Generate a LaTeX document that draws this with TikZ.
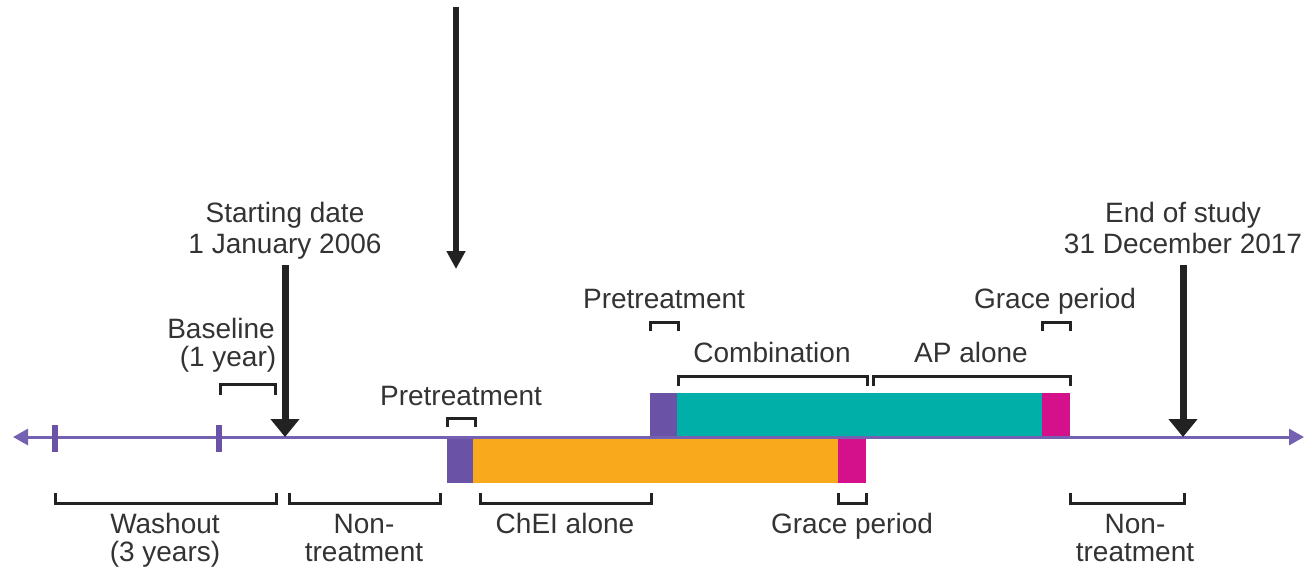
\documentclass[tikz,border=0pt]{standalone}
\usepackage{fontspec}
\setmainfont{Liberation Sans}
\usetikzlibrary{arrows.meta}
\definecolor{tlpurple}{HTML}{7561B2}
\definecolor{blkpurple}{HTML}{6A52A6}
\definecolor{cteal}{HTML}{00B0A8}
\definecolor{corange}{HTML}{F9A91C}
\definecolor{cmagenta}{HTML}{D4108A}
\definecolor{ink}{HTML}{222222}
\definecolor{txt}{HTML}{333333}
\begin{document}
\begin{tikzpicture}[x=0.5pt,y=-0.5pt,
  lbl/.style={font=\fontsize{14}{16}\selectfont, text=txt, inner sep=0pt, anchor=base},
  bracket/.style={draw=ink, line width=1.5pt, line join=miter},
  bigarrow/.style={draw=ink, line width=3.5pt, -{Triangle[length=9pt,width=14pt]}},
  toparrow/.style={draw=ink, line width=3pt, -{Triangle[length=9pt,width=9pt]}},
  timeline/.style={draw=tlpurple, line width=1.5pt,
    {Triangle[length=7.5pt,width=8pt]}-{Triangle[length=7.5pt,width=8pt]}},
  tick/.style={draw=blkpurple, line width=3pt}]
\useasboundingbox (0,0) rectangle (1309,569);

% treatment blocks below the time axis
\fill[blkpurple] (447,437) rectangle (473,483);
\fill[corange] (473,437) rectangle (838,483);
\fill[cmagenta] (838,437) rectangle (866,483);
% treatment blocks above the time axis
\fill[blkpurple] (650,393) rectangle (677,437);
\fill[cteal] (677,393) rectangle (1042,437);
\fill[cmagenta] (1042,393) rectangle (1070,437);

% time axis and year ticks
\coordinate (axL) at (13,437);
\coordinate (axR) at (1304,437);
\draw[timeline] (axL) -- (axR);
\draw[tick] (55,425) -- (55,452);
\draw[tick] (219,425) -- (219,452);

% arrows
\coordinate (topA) at (456,7);
\coordinate (topB) at (456,269);
\draw[toparrow] (topA) -- (topB);
\coordinate (startA) at (285,265);
\coordinate (startB) at (285,437);
\draw[bigarrow] (startA) -- (startB);
\coordinate (endA) at (1183,265);
\coordinate (endB) at (1183,437);
\draw[bigarrow] (endA) -- (endB);

% brackets above the axis
\draw[bracket] (220,395) |- (275,384) -- (275,395);
\draw[bracket] (447,427) |- (475,418) -- (475,427);
\draw[bracket] (650,331) |- (678,322) -- (678,331);
\draw[bracket] (678,386) |- (867,376) -- (867,386);
\draw[bracket] (873,386) |- (1070,376) -- (1070,386);
\draw[bracket] (1042,331) |- (1070,322) -- (1070,331);

% brackets below the axis
\draw[bracket] (55,493) |- (276,503) -- (276,493);
\draw[bracket] (289,493) |- (440,503) -- (440,493);
\draw[bracket] (480,493) |- (651,503) -- (651,493);
\draw[bracket] (838,493) |- (866,503) -- (866,493);
\draw[bracket] (1070,493) |- (1184,503) -- (1184,493);

% labels
\node[lbl] (sd1) at (285,222) {Starting date};
\node[lbl] (sd2) at (285,253) {1 January 2006};
\node[lbl] (es1) at (1183,222) {End of study};
\node[lbl] (es2) at (1183,253) {31 December 2017};
\node[lbl] (bl1) at (221,338) {Baseline};
\node[lbl] (bl2) at (228,366) {(1 year)};
\node[lbl] (pre1) at (461,405) {Pretreatment};
\node[lbl] (pre2) at (664,308) {Pretreatment};
\node[lbl] (comb) at (772,362) {Combination};
\node[lbl] (apal) at (971,362) {AP alone};
\node[lbl] (grt) at (1055,308) {Grace period};
\node[lbl] (wo1) at (165,533) {Washout};
\node[lbl] (wo2) at (165,561) {(3 years)};
\node[lbl] (nt1) at (364,533) {Non-};
\node[lbl] (nt2) at (364,561) {treatment};
\node[lbl] (chei) at (565,533) {ChEI alone};
\node[lbl] (grb) at (852,533) {Grace period};
\node[lbl] (nr1) at (1135,533) {Non-};
\node[lbl] (nr2) at (1135,561) {treatment};
\end{tikzpicture}
\end{document}
